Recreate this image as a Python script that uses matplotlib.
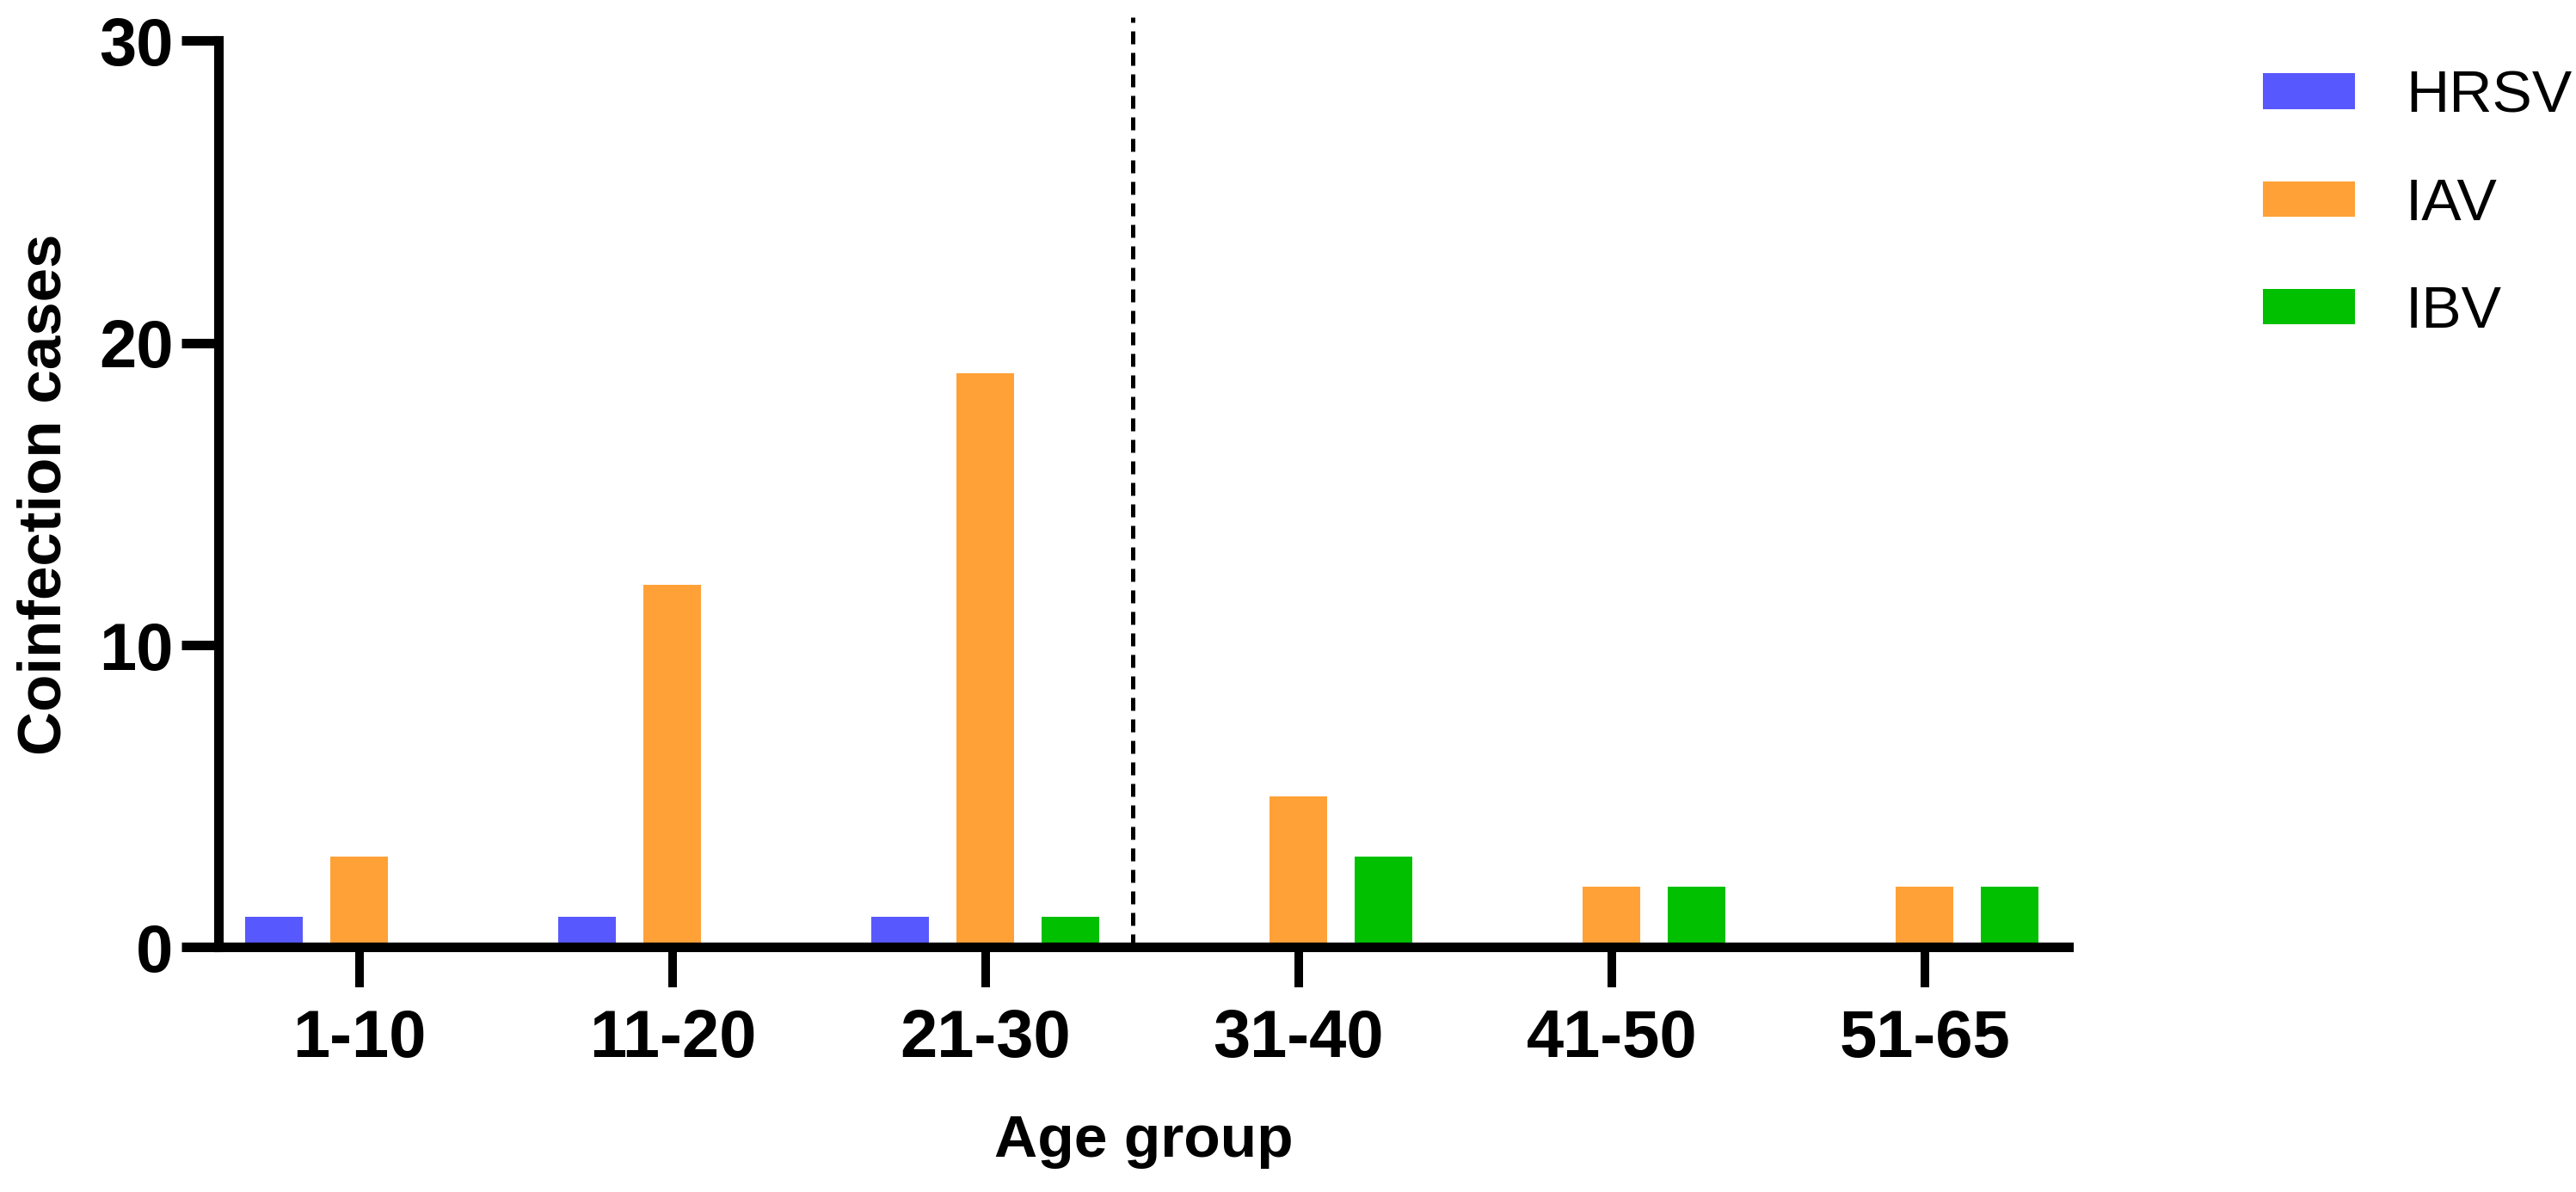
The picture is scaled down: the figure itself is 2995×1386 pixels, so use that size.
import matplotlib
matplotlib.use("Agg")
import matplotlib.pyplot as plt
import numpy as np
from matplotlib.patches import Patch

# ---- data ----
categories = ["1-10", "11-20", "21-30", "31-40", "41-50", "51-65"]
series_names = ["HRSV", "IAV", "IBV"]
hrsv = [1, 1, 1, 0, 0, 0]
iav = [3, 12, 19, 5, 2, 2]
ibv = [0, 0, 1, 3, 2, 2]
colors = ["#5858FF", "#FFA137", "#00C000"]
y_ticks = [0, 10, 20, 30]
separator_x = 2.47

plt.rcParams['font.family'] = ['Liberation Sans', 'DejaVu Sans']

fig = plt.figure(figsize=(29.95, 13.86), dpi=100)
ax = fig.add_axes([0.08497, 0.20527, 0.71803, 0.76046])

x = np.arange(len(categories))
bar_w = 0.184
offs = [-0.272, 0.0, 0.272]
for vals, off, col, name in zip([hrsv, iav, ibv], offs, colors, series_names):
    ax.bar(x + off, vals, width=bar_w, color=col, linewidth=0, label=name, zorder=2)

ax.set_xlim(-0.449, 5.459)
ax.set_ylim(0, 30)

for s in ["top", "right"]:
    ax.spines[s].set_visible(False)
for s in ["left", "bottom"]:
    ax.spines[s].set_linewidth(8)
    ax.spines[s].set_zorder(3)

ax.set_yticks(y_ticks)
ax.set_yticklabels([str(v) for v in y_ticks], fontsize=56, fontweight='bold')
ax.set_xticks(x)
ax.set_xticklabels(categories, fontsize=56, fontweight='bold')
ax.tick_params(axis='y', direction='out', length=31, width=8, pad=7)
ax.tick_params(axis='x', direction='out', length=34, width=7.2, pad=17)

# dashed separator
ax.plot([separator_x, separator_x], [0, 30.78], color='black', lw=3.6,
        linestyle=(0, (3.0, 2.0)), clip_on=False, zorder=1, dash_capstyle='butt')

ax.set_xlabel("Age group", fontsize=50, fontweight='bold')
ax.xaxis.set_label_coords(0.5, -0.1836)
ax.xaxis.label.set_va('top')
ax.set_ylabel("Coinfection cases", fontsize=51, fontweight='bold')
ax.yaxis.set_label_coords(-0.0788, 0.5)

handles = [Patch(facecolor=c, edgecolor='none', label=n) for c, n in zip(colors, series_names)]
fig.legend(handles=handles, loc='upper left', bbox_to_anchor=(0.8785, 0.9416),
           frameon=False, fontsize=50, handlelength=1.54, handleheight=0.548,
           handletextpad=0.85, labelspacing=0.88, borderpad=0, borderaxespad=0)

fig.savefig("out.png", dpi=100)
